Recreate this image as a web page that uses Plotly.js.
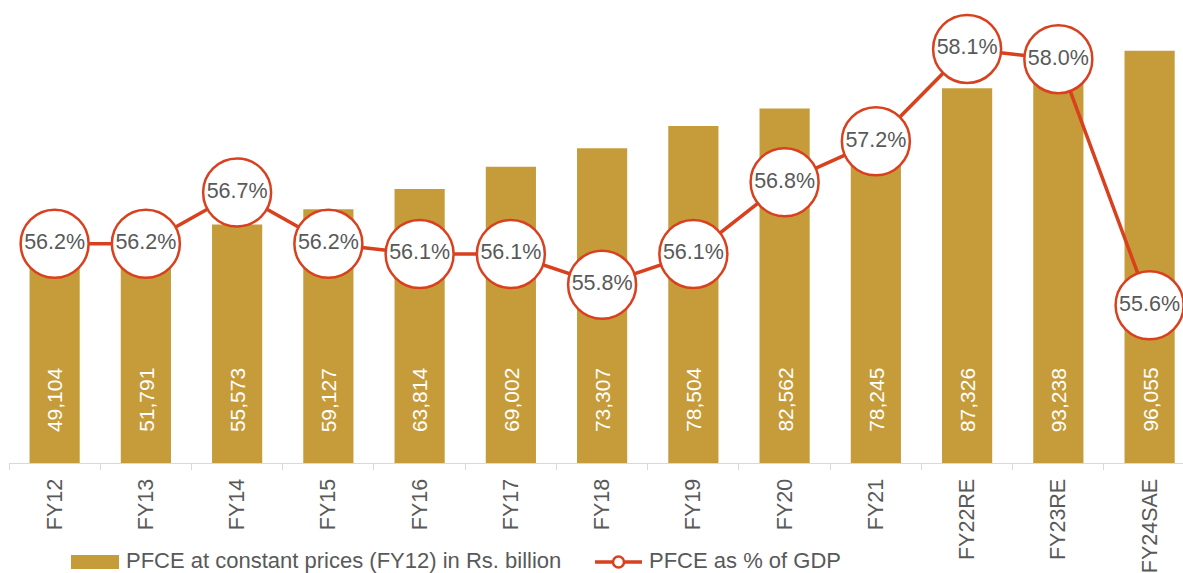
<!DOCTYPE html>
<html>
<head>
<meta charset="utf-8">
<script src="https://cdn.plot.ly/plotly-3.0.1.min.js"></script>
<style>
html,body{margin:0;padding:0;background:#fff;}
#chart{width:1183px;height:573px;}
</style>
</head>
<body>
<div id="chart"></div>
<script>
const categories = ["FY12","FY13","FY14","FY15","FY16","FY17","FY18","FY19","FY20","FY21","FY22RE","FY23RE","FY24SAE"];
const pfceValues = [49104,51791,55573,59127,63814,69002,73307,78504,82562,78245,87326,93238,96055];
const pfceShareOfGdp = [56.2,56.2,56.7,56.2,56.1,56.1,55.8,56.1,56.8,57.2,58.1,58.0,55.6];
const barName = "PFCE at constant prices (FY12) in Rs. billion";
const lineName = "PFCE as % of GDP";

const BAR_COLOR = "#C69C3B";
const LINE_COLOR = "#D9401E";
const TEXT_COLOR = "#595959";
const FONT = "Liberation Sans, Arial, sans-serif";

const W = 1183, H = 573;
const M = {l: 9, r: 0, t: 10, b: 110};
const plotW = W - M.l - M.r, plotH = H - M.t - M.b;
const px = x => (x - M.l) / plotW;
const py = y => (H - M.b - y) / plotH;

const barTrace = {
  type: "bar",
  name: barName,
  x: categories,
  y: pfceValues,
  marker: {color: BAR_COLOR},
  hoverinfo: "x+y",
  showlegend: false
};

const lineTrace = {
  type: "scatter",
  mode: "lines+markers+text",
  name: lineName,
  x: categories,
  y: pfceShareOfGdp,
  yaxis: "y2",
  text: pfceShareOfGdp.map(v => v.toFixed(1) + "%"),
  textposition: "middle center",
  textfont: {family: FONT, size: 21.5, color: TEXT_COLOR},
  line: {color: LINE_COLOR, width: 3.5},
  marker: {size: 68, color: "#FFFFFF", line: {color: LINE_COLOR, width: 2.5}},
  cliponaxis: false,
  showlegend: false
};

const annotations = categories.map((c, i) => ({
  x: c, y: 0, xref: "x", yref: "y",
  text: pfceValues[i].toLocaleString("en-US"),
  showarrow: false,
  textangle: -90,
  yanchor: "bottom",
  yshift: 29,
  font: {family: FONT, size: 21, color: "#FFFFFF"}
}));

// custom legend
annotations.push({
  xref: "paper", yref: "paper", x: px(124), y: py(560),
  xanchor: "left", yanchor: "middle", showarrow: false,
  text: barName, font: {family: FONT, size: 22, color: TEXT_COLOR}
});
annotations.push({
  xref: "paper", yref: "paper", x: px(647), y: py(560),
  xanchor: "left", yanchor: "middle", showarrow: false,
  text: lineName, font: {family: FONT, size: 22, color: TEXT_COLOR}
});

const shapes = [
  {type: "rect", xref: "paper", yref: "paper",
   x0: px(71), x1: px(119), y0: py(569), y1: py(555),
   fillcolor: BAR_COLOR, line: {width: 0}},
  {type: "line", xref: "paper", yref: "paper",
   x0: px(595), x1: px(642), y0: py(562), y1: py(562),
   line: {color: LINE_COLOR, width: 3.5}},
  {type: "circle", xref: "paper", yref: "paper",
   x0: px(613), x1: px(624), y0: py(567.5), y1: py(556.5),
   fillcolor: "#FFFFFF", line: {color: LINE_COLOR, width: 2.5}}
];

const layout = {
  width: W, height: H,
  margin: M,
  paper_bgcolor: "#FFFFFF",
  plot_bgcolor: "#FFFFFF",
  font: {family: FONT, color: TEXT_COLOR},
  showlegend: false,
  bargap: 0.45,
  xaxis: {
    type: "category",
    range: [-0.5, 12.366],
    showline: true, linecolor: "#D9D9D9", linewidth: 1.2,
    ticks: "outside", ticklen: 6, tickcolor: "#D9D9D9",
    tickson: "boundaries",
    tickangle: -90,
    ticklabelstandoff: 6,
    tickfont: {family: FONT, size: 21.5, color: TEXT_COLOR},
    showgrid: false, zeroline: false, fixedrange: true
  },
  yaxis: {
    range: [0, 105535],
    visible: false, showgrid: false, zeroline: false, fixedrange: true
  },
  yaxis2: {
    overlaying: "y", side: "right",
    range: [54.061, 58.48],
    visible: false, showgrid: false, zeroline: false, fixedrange: true
  },
  annotations: annotations,
  shapes: shapes
};

Plotly.newPlot("chart", [barTrace, lineTrace], layout, {displayModeBar: false, staticPlot: true});
</script>
</body>
</html>
